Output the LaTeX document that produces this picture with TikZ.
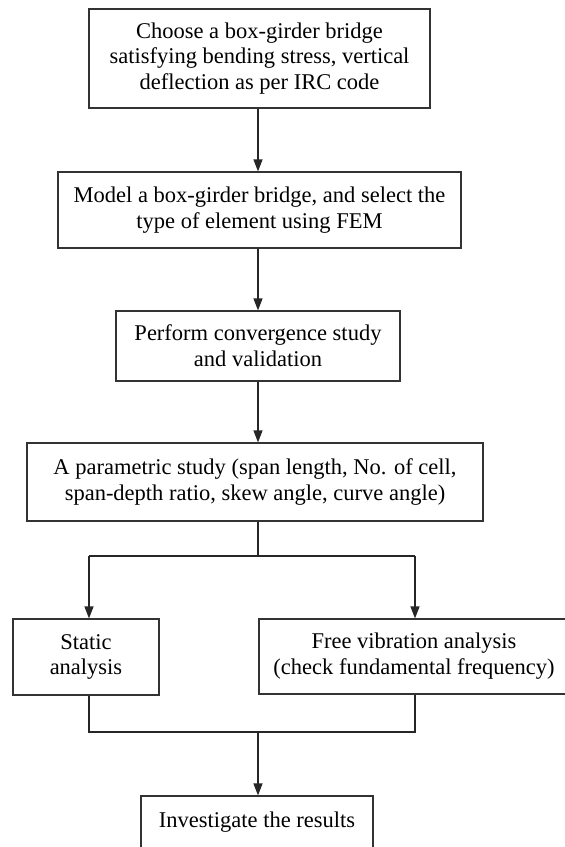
\documentclass[tikz,border=0pt]{standalone}
\usepackage{fontspec}
\setmainfont{Liberation Serif}
\usetikzlibrary{arrows.meta}
\begin{document}
\begin{tikzpicture}[x=1pt,y=-1pt,
 box/.style={draw=black!80, line width=1.2pt, align=center, inner sep=0pt, font=\fontsize{22.5}{25.8}\selectfont},
 arr/.style={draw=black!85, line width=1.2pt, -{Triangle[width=9pt,length=12pt]}},
 ln/.style={draw=black!85, line width=1.2pt}]
\useasboundingbox (0,0) rectangle (565,847);
\clip (0,0) rectangle (565,847);
\fill[white] (0,0) rectangle (565,847);
\node[box, minimum width=341pt, minimum height=99pt] (b1) at (259.5,58.5) {Choose a box-girder bridge\\satisfying bending stress, vertical\\deflection as per IRC code};
\node[box, minimum width=403pt, minimum height=76pt] (b2) at (259.5,210) {Model a box-girder bridge, and select the\\type of element using FEM};
\node[box, minimum width=284pt, minimum height=70pt] (b3) at (258,346) {Perform convergence study\\and validation};
\node[box, minimum width=456pt, minimum height=78pt] (b4) at (255,482) {A parametric study (span length, No. of cell,\\span-depth ratio, skew angle, curve angle)};
\node[box, minimum width=146pt, minimum height=76pt] (b5) at (86,657) {Static\\analysis};
\node[box, minimum width=310pt, minimum height=75pt] (b6) at (414,656.5) {Free vibration analysis\\(check fundamental frequency)};
\node[box, minimum width=232pt, minimum height=52pt] (b7) at (257,822) {Investigate the results};
\coordinate (m) at (258,0);
\coordinate (s1) at (89,556);
\coordinate (s2) at (415,556);
\coordinate (s0) at (258,556);
\coordinate (j1) at (89,732);
\coordinate (j2) at (415,732);
\coordinate (j0) at (258,732);
\draw[arr] (b1.south -| m) -- (b2.north -| m);
\draw[arr] (b2.south -| m) -- (b3.north -| m);
\draw[arr] (b3.south -| m) -- (b4.north -| m);
\draw[ln] (b4.south -| m) -- (s0);
\draw[ln] (s1) -- (s2);
\draw[arr] (s1) -- (s1 |- b5.north);
\draw[arr] (s2) -- (s2 |- b6.north);
\draw[ln] (s1 |- b5.south) -- (j1) -- (j2) -- (s2 |- b6.south);
\draw[arr] (j0) -- (j0 |- b7.north);
\end{tikzpicture}
\end{document}
